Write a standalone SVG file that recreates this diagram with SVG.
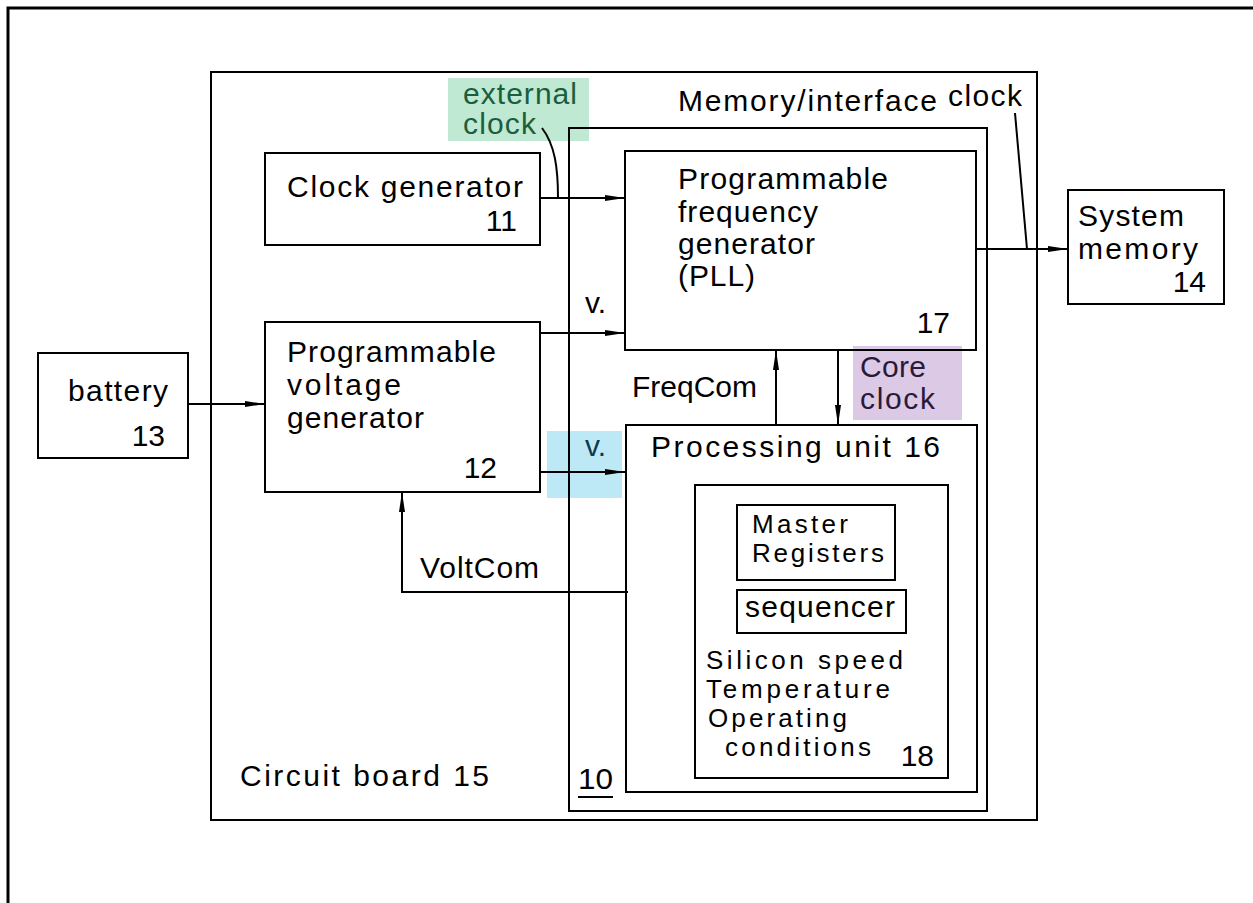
<svg xmlns="http://www.w3.org/2000/svg" width="1253" height="903" viewBox="0 0 1253 903">
<defs>
<marker id="arr" viewBox="0 0 20 8" refX="20" refY="4" markerWidth="20" markerHeight="8" markerUnits="userSpaceOnUse" orient="auto">
<path d="M0,1 L20,4 L0,7 Z" fill="#000"/>
</marker>
</defs>
<style>
.box{fill:none;stroke:#000;stroke-width:2}
.ln{fill:none;stroke:#000;stroke-width:2}
.t{font-family:"Liberation Sans",Arial,sans-serif;font-size:30px;fill:#000}
.s{font-family:"Liberation Sans",Arial,sans-serif;font-size:26px;fill:#000}
</style>
<rect width="1253" height="903" fill="#fff"/>
<rect id="frame" x="8" y="8" width="1300" height="1000" fill="none" stroke="#000" stroke-width="3"/>

<g id="highlights">
<rect x="448" y="78" width="141" height="63" fill="#bfe9d3"/>
<rect x="547" y="431" width="75" height="67" fill="#bde9f7"/>
<rect x="853" y="346" width="109" height="74" fill="#dcc9e5"/>
</g>

<g id="board15">
<rect class="box" x="211" y="72" width="826" height="748"/>
<text class="t" x="240" y="786" textLength="249" lengthAdjust="spacing">Circuit  board  15</text>
</g>

<g id="chip10">
<rect class="box" x="569" y="128" width="418" height="683"/>
<text class="t" x="578" y="789" textLength="35" lengthAdjust="spacingAndGlyphs">10</text>
<line x1="578" y1="797" x2="613" y2="797" stroke="#000" stroke-width="2"/>
</g>

<g id="clockgen11">
<rect class="box" x="265" y="153" width="275" height="92"/>
<text class="t" x="287" y="197" textLength="236" lengthAdjust="spacing">Clock  generator</text>
<text class="t" x="517" y="231" text-anchor="end">11</text>
</g>

<g id="voltgen12">
<rect class="box" x="265" y="322" width="275" height="170"/>
<text class="t" x="287" y="362" textLength="209" lengthAdjust="spacing">Programmable</text>
<text class="t" x="287" y="395" textLength="114" lengthAdjust="spacing">voltage</text>
<text class="t" x="287" y="428" textLength="137" lengthAdjust="spacing">generator</text>
<text class="t" x="497" y="478" text-anchor="end">12</text>
</g>

<g id="battery13">
<rect class="box" x="38" y="353" width="150" height="105"/>
<text class="t" x="68" y="401" textLength="100" lengthAdjust="spacing">battery</text>
<text class="t" x="165" y="446" text-anchor="end">13</text>
</g>

<g id="pll17">
<rect class="box" x="625" y="151" width="351" height="199"/>
<text class="t" x="678" y="189" textLength="210" lengthAdjust="spacing">Programmable</text>
<text class="t" x="678" y="222" textLength="140" lengthAdjust="spacing">frequency</text>
<text class="t" x="678" y="254" textLength="137" lengthAdjust="spacing">generator</text>
<text class="t" x="678" y="286" textLength="77" lengthAdjust="spacing">(PLL)</text>
<text class="t" x="950" y="333" text-anchor="end">17</text>
</g>

<g id="sysmem14">
<rect class="box" x="1068" y="190" width="156" height="114"/>
<text class="t" x="1078" y="226" textLength="106" lengthAdjust="spacing">System</text>
<text class="t" x="1078" y="259" textLength="120" lengthAdjust="spacing">memory</text>
<text class="t" x="1206" y="292" text-anchor="end">14</text>
</g>

<g id="pu16">
<rect class="box" x="626" y="425" width="351" height="367"/>
<text class="t" x="651" y="457" textLength="289" lengthAdjust="spacing">Processing  unit  16</text>
</g>

<g id="box18">
<rect class="box" x="695" y="485" width="253" height="293"/>
<rect class="box" x="737" y="505" width="158" height="75"/>
<text class="s" x="752" y="533" textLength="96" lengthAdjust="spacing">Master</text>
<text class="s" x="752" y="562" textLength="132" lengthAdjust="spacing">Registers</text>
<rect class="box" x="737" y="590" width="169" height="43"/>
<text class="t" x="745" y="617" textLength="150" lengthAdjust="spacing">sequencer</text>
<text class="s" x="706" y="669" textLength="197" lengthAdjust="spacing">Silicon  speed</text>
<text class="s" x="706" y="698" textLength="184" lengthAdjust="spacing">Temperature</text>
<text class="s" x="708" y="727" textLength="139" lengthAdjust="spacing">Operating</text>
<text class="s" x="725" y="756" textLength="146" lengthAdjust="spacing">conditions</text>
<text class="t" x="934" y="766" text-anchor="end">18</text>
</g>

<g id="connectors">
<line class="ln" x1="188" y1="404" x2="265" y2="404" marker-end="url(#arr)"/>
<line class="ln" x1="540" y1="198" x2="625" y2="198" marker-end="url(#arr)"/>
<line class="ln" x1="540" y1="333" x2="625" y2="333" marker-end="url(#arr)"/>
<line class="ln" x1="540" y1="472" x2="625" y2="472" marker-end="url(#arr)"/>
<line class="ln" x1="976" y1="249" x2="1068" y2="249" marker-end="url(#arr)"/>
<line class="ln" x1="776" y1="425" x2="776" y2="350" marker-end="url(#arr)"/>
<line class="ln" x1="838" y1="350" x2="838" y2="425" marker-end="url(#arr)"/>
<polyline class="ln" points="628,592 402,592 402,492" marker-end="url(#arr)"/>
<path class="ln" d="M542,128 C555,145 558,168 558,198" stroke-width="1.6"/>
<line class="ln" x1="1015" y1="113" x2="1027" y2="249" stroke-width="1.6"/>
</g>

<g id="labels">
<text class="t" x="463" y="104" style="fill:#1b5e3f" textLength="114" lengthAdjust="spacing">external</text>
<text class="t" x="463" y="134" style="fill:#1b5e3f" textLength="73" lengthAdjust="spacing">clock</text>
<text class="t" x="678" y="111" textLength="259" lengthAdjust="spacing">Memory/interface</text>
<text class="t" x="948" y="106" textLength="74" lengthAdjust="spacing">clock</text>
<text class="t" x="585" y="313">v.</text>
<text class="t" x="585" y="456" style="fill:#0f3a4c">v.</text>
<text class="t" x="632" y="397" textLength="125" lengthAdjust="spacing">FreqCom</text>
<text class="t" x="860" y="377" style="fill:#2a1a3a" textLength="66" lengthAdjust="spacing">Core</text>
<text class="t" x="860" y="409" style="fill:#2a1a3a" textLength="75" lengthAdjust="spacing">clock</text>
<text class="t" x="420" y="578" textLength="119" lengthAdjust="spacing">VoltCom</text>
</g>
</svg>
